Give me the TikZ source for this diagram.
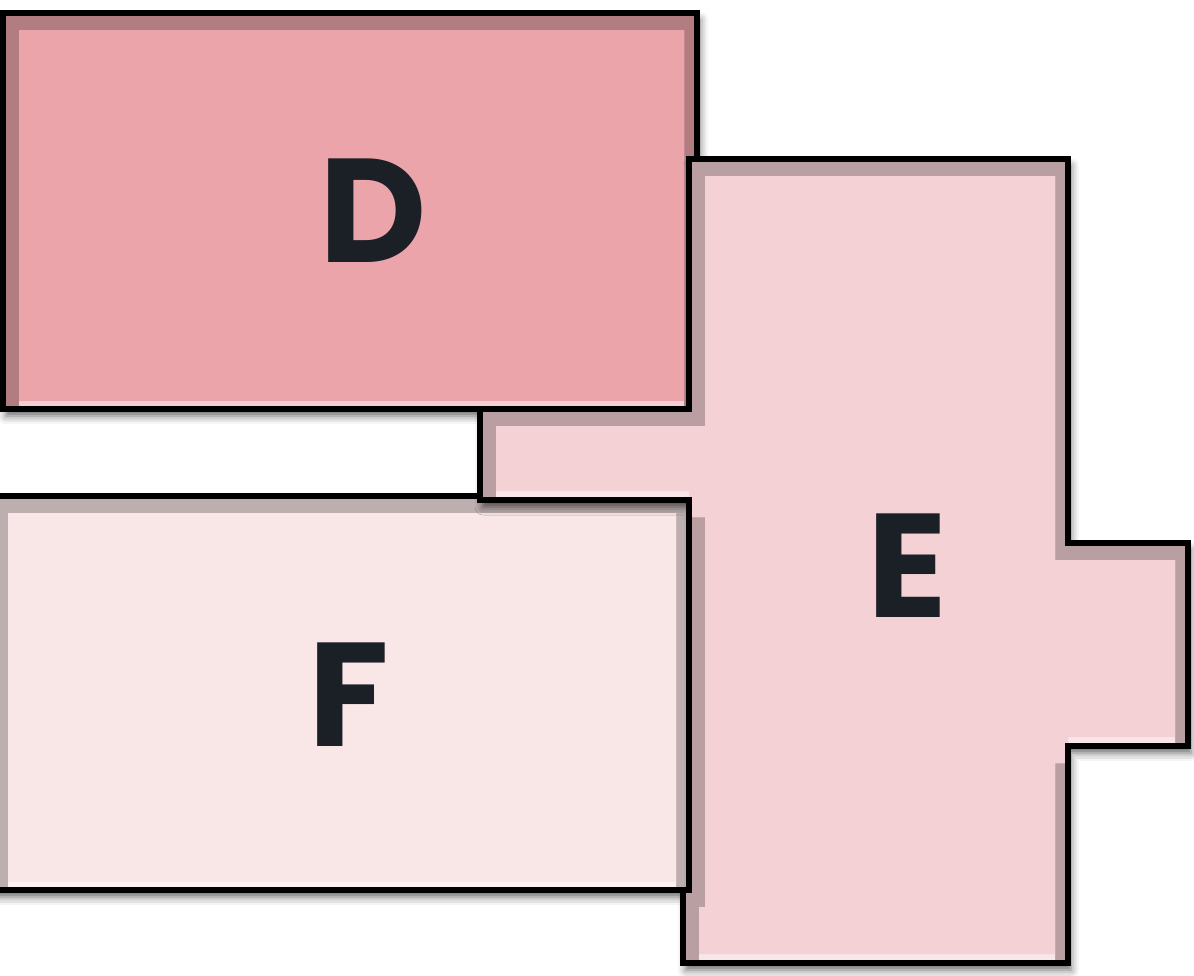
\documentclass[tikz,border=0pt]{standalone}
\usepackage{fontspec}
\setmainfont{Poppins}
\usetikzlibrary{shadows.blur}
\definecolor{roomD}{RGB}{235,165,170}
\definecolor{roomE}{RGB}{243,209,213}
\definecolor{roomF}{RGB}{249,230,231}
\definecolor{labelink}{RGB}{27,31,38}
\tikzset{
  wall/.style={
    draw=black, line width=0.06cm, line join=miter
  },
  roomshadow/.style={
    blur shadow={shadow xshift=0.03cm, shadow yshift=-0.07cm,
      shadow blur radius=0.08cm, shadow opacity=60}
  },
  roomlabel/.style={
    font=\fontsize{42}{42}\selectfont\bfseries, text=labelink
  },
}
%% one room: drop shadow, bevelled fill, wall outline
\newcommand{\drawroom}[2]{%
  \path[roomshadow] #2 -- cycle;
  \begin{scope}
    \clip #2 -- cycle;
    \fill[black!24!#1] #2 -- cycle;
    \begin{scope}
      \clip[shift={(16,17)}] #2 -- cycle;
      \clip[shift={(-13,17)}] #2 -- cycle;
      \fill[#1!55!white] #2 -- cycle;
      \begin{scope}
        \clip[shift={(0,-9)}] #2 -- cycle;
        \fill[#1] #2 -- cycle;
      \end{scope}
    \end{scope}
  \end{scope}
  \draw[wall] #2 -- cycle;
}

\begin{document}
\begin{tikzpicture}[x=0.01cm, y=-0.01cm]

  \useasboundingbox (0,0) rectangle (1194,975);
  \clip (0,0) rectangle (1194,975);

  %% Rooms
  \drawroom{roomD}{(3,13) -- (697,13) -- (697,409) -- (3,409)}
  \drawroom{roomF}{(-8,496) -- (689,496) -- (689,890) -- (-8,890)}
  \drawroom{roomE}{(689,159) -- (1068,159) -- (1068,543) -- (1188,543)
    -- (1188,746) -- (1068,746) -- (1068,963) -- (683,963) -- (683,890)
    -- (689,890) -- (689,500) -- (480,500) -- (480,409) -- (689,409)}

  %% Labels
  \node[roomlabel] (labD) at (373,211) {D};
  \node[roomlabel] (labE) at (907,566) {E};
  \node[roomlabel] (labF) at (349,695) {F};

\end{tikzpicture}
\end{document}
